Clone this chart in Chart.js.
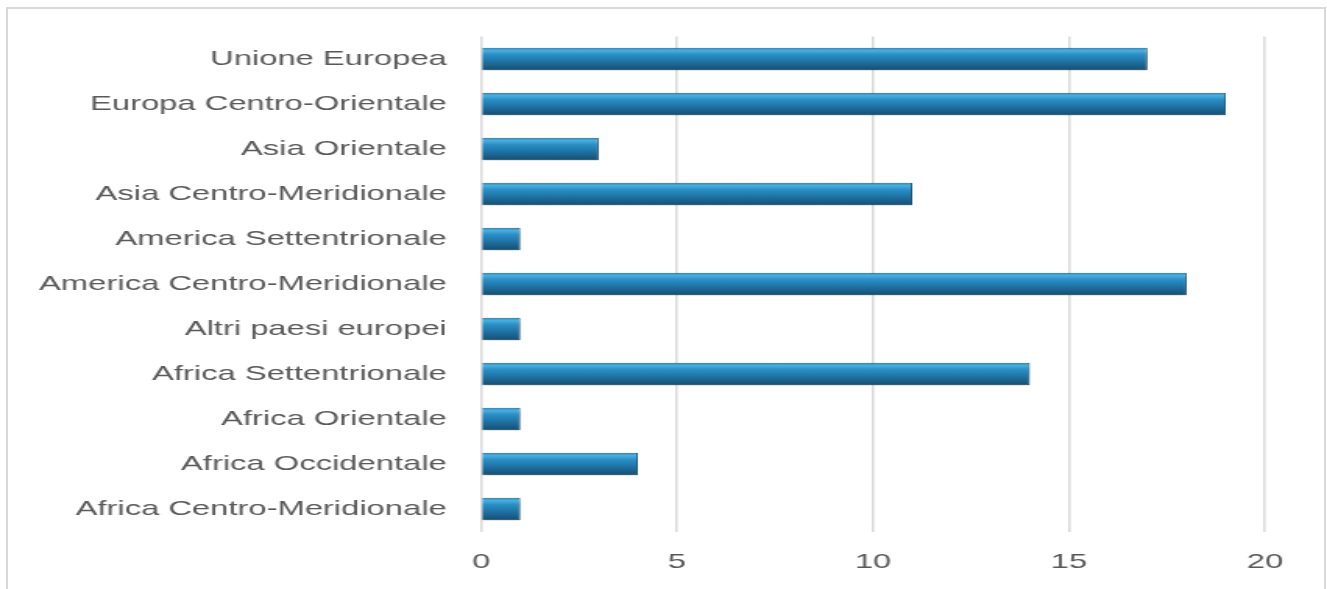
<!DOCTYPE html>
<html>
<head>
<meta charset="utf-8">
<script src="https://cdn.jsdelivr.net/npm/chart.js@4/dist/chart.umd.min.js"></script>
<style>
  html, body { margin: 0; padding: 0; background: #fff; overflow: hidden; }
  #cornice {
    position: absolute; left: 6px; top: 7px; width: 1316px; height: 600px;
    border: 2px solid #d9d9d9; border-bottom: none;
  }
  /* il grafico originale e' allargato in orizzontale */
  #box { position: absolute; left: 0; top: 0; transform-origin: 0 0; transform: scaleX(1.5594); }
</style>
</head>
<body>
<div id="cornice"></div>
<div id="box"><canvas id="grafico" width="851" height="589"></canvas></div>
<script>
// Dati

const aree = [
  "Unione Europea",
  "Europa Centro-Orientale",
  "Asia Orientale",
  "Asia Centro-Meridionale",
  "America Settentrionale",
  "America Centro-Meridionale",
  "Altri paesi europei",
  "Africa Settentrionale",
  "Africa Orientale",
  "Africa Occidentale",
  "Africa Centro-Meridionale"
];
const valori = [17, 19, 3, 11, 1, 18, 1, 14, 1, 4, 1];
const tickX = [0, 5, 10, 15, 20];

// Sfumatura della barra (effetto rilievo)
function sfumatura(c) {
  const chart = c.chart;
  const y = chart.scales.y;
  if (!y || c.dataIndex === undefined) return "#2480b5";
  const yc = y.getPixelForValue(c.dataIndex);
  if (!isFinite(yc)) return "#2480b5";
  const g = chart.ctx.createLinearGradient(0, yc - 11, 0, yc + 11);
  g.addColorStop(0, "#2a8cc2");
  g.addColorStop(0.12, "#48afe0");
  g.addColorStop(0.3, "#2b8fc6");
  g.addColorStop(0.6, "#1f74a6");
  g.addColorStop(1, "#154f73");
  return g;
}

const ombra = {
  id: "ombra",
  beforeDatasetsDraw(chart) {
    const ctx = chart.ctx;
    ctx.save();
    ctx.shadowColor = "rgba(0,0,0,0.35)";
    ctx.shadowBlur = 5;
    ctx.shadowOffsetY = 3;
    ctx.shadowOffsetX = 1;
  },
  afterDatasetsDraw(chart) {
    chart.ctx.restore();
  }
};

const ctx = document.getElementById("grafico");

const chart = new Chart(ctx, {
  type: "bar",
  data: {
    labels: aree,
    datasets: [
      {
        data: valori,
        backgroundColor: sfumatura,
        borderColor: "#1d6590",
        borderWidth: 1,
        categoryPercentage: 1,
        barPercentage: 0.5
      }
    ]
  },
  options: {
    indexAxis: "y",
    responsive: false,
    animation: false,
    layout: { padding: { top: 36.5, right: 39.8, left: 0, bottom: 0 } },
    plugins: { legend: { display: false }, tooltip: { enabled: false } },
    scales: {
      x: {
        min: 0,
        max: 20,
        afterBuildTicks: (s) => { s.ticks = tickX.map((v) => ({ value: v })); },
        grid: { color: "#d9d9d9", lineWidth: 1.5, drawTicks: false },
        border: { display: false },
        ticks: { color: "#595959", font: { family: "Liberation Sans", size: 21 }, padding: 18.5 },
        afterFit: (s) => { s.height = 57.5; }
      },
      y: {
        grid: { display: false },
        border: { display: false },
        ticks: { color: "#595959", font: { family: "Liberation Sans", size: 21 }, padding: 14 },
        afterFit: (s) => { s.width = 308.5; }
      }
    }
  },
  plugins: [ombra]
});
</script>
</body>
</html>
